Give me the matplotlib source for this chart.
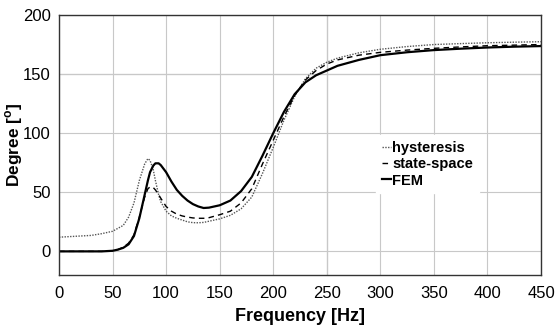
import matplotlib.pyplot as plt
import numpy as np

plt.rcParams['font.family'] = ['Liberation Sans', 'DejaVu Sans']

# frequency points [Hz]
freq = [0, 10, 20, 30, 40, 50, 55, 60, 65, 70, 75, 80, 83, 85, 88, 90, 93, 95,
        100, 105, 110, 115, 120, 125, 130, 135, 140, 150, 160, 170, 180, 190,
        200, 210, 220, 230, 240, 250, 260, 280, 300, 325, 350, 375, 400, 425, 450]

hysteresis = [12, 12.5, 13, 13.5, 15, 17, 19.5, 22, 29, 41, 60, 74, 78.5, 77, 69, 60, 48, 42,
              34, 30, 28, 26.5, 25, 24.3, 24.2, 24.5, 25.5, 27.5, 30.5, 36, 46, 66,
              88, 111, 131, 146, 155, 160, 163.5, 168, 171, 173.3, 175, 175.8, 176.5, 177, 177.4]

state_space = [0, 0, 0, 0, 0, 0.5, 1.5, 3.5, 7, 14, 29, 46, 53, 54.5, 54, 52, 48, 45,
               38, 34, 31.5, 30, 29, 28.3, 28, 28, 28.5, 31, 34, 41, 53, 74,
               94, 114, 132, 145, 153, 158.5, 162, 166, 168.4, 170.3, 171.8, 173, 174, 174.5, 175]

fem = [0, 0, 0, 0, 0, 0.5, 1.5, 3, 6, 13, 28, 48, 60, 67, 72.5, 74.5, 74.5, 73,
       67, 59, 52, 47, 43, 40, 38, 36.7, 37, 39, 43, 51, 63, 81,
       100, 118, 133, 143, 149, 153, 157, 162, 166, 168.5, 170.3, 171.5, 172.5, 173.2, 173.7]

fig = plt.figure(figsize=(5.55, 3.26), dpi=100)
ax = fig.add_axes([0.1063, 0.1564, 0.8685, 0.7976])

ax.plot(freq, hysteresis, color='#555555', linestyle=(0, (1, 1)), linewidth=1.0, label='hysteresis')
ax.plot(freq, state_space, color='black', linestyle=(0, (4, 3)), linewidth=1.0, label='state-space')
ax.plot(freq, fem, color='black', linestyle='-', linewidth=1.6, label='FEM')

ax.set_xlim(0, 450)
ax.set_ylim(-20, 200)
ax.set_xticks(np.arange(0, 451, 50))
ax.set_yticks(np.arange(0, 201, 50))
ax.grid(True, color='#c8c8c8', linewidth=0.8)
ax.axvline(250, color='#707070', linewidth=0.8, zorder=0.5)
ax.axhline(150, color='#909090', linewidth=0.8, zorder=0.5)
ax.set_axisbelow(True)

ax.tick_params(axis='x', length=0, labelsize=12, pad=8)
ax.tick_params(axis='y', length=0, labelsize=12, pad=6)
for s in ax.spines.values():
    s.set_color('#333333')
    s.set_linewidth(1.0)

ax.set_xlabel('Frequency [Hz]', fontsize=13, fontweight='bold', labelpad=5)
ax.set_ylabel(r'Degree [$^\mathregular{o}$]', fontsize=12.5, fontweight='bold')
ax.yaxis.set_label_coords(-0.07, 0.5)

leg = ax.legend(loc='upper left', bbox_to_anchor=(0.643, 0.565), frameon=True,
                handlelength=0.6, handletextpad=0.1, borderpad=0.4, labelspacing=0.15,
                prop={'weight': 'bold', 'size': 10.5}, fancybox=False)
leg.get_frame().set_edgecolor('white')
leg.get_frame().set_alpha(1)

fig.savefig('out.png', dpi=100)
